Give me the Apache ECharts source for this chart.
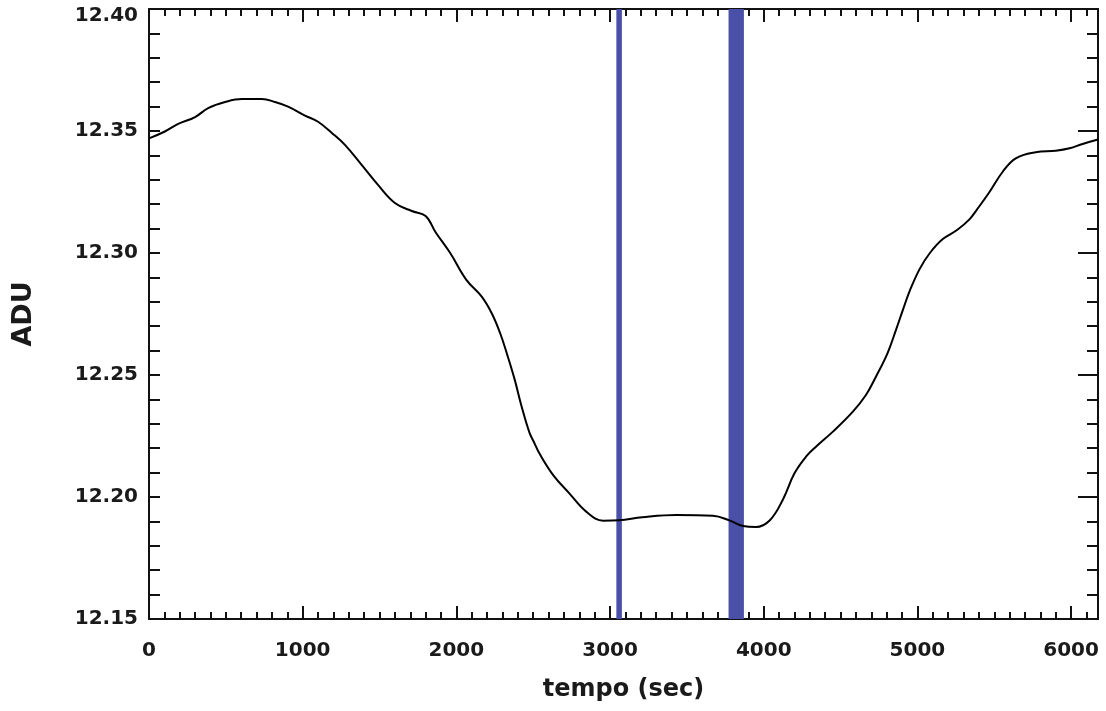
<!DOCTYPE html>
<html>
<head>
<meta charset="utf-8">
<title>ADU vs tempo</title>
<script src="https://cdn.jsdelivr.net/npm/echarts@6/dist/echarts.min.js"></script>
<style>
  html, body { margin: 0; padding: 0; background: #ffffff; }
  #chart { width: 1106px; height: 711px; }
</style>
</head>
<body>
<div id="chart"></div>
<script>
// Light curve samples: time in seconds, signal in ADU
const tempo = [
  0, 100, 190, 300, 385, 495, 605, 735, 820, 905, 1015, 1100, 1190, 1275,
  1385, 1490, 1600, 1710, 1800, 1865, 1960, 2065, 2165, 2230, 2285, 2335,
  2380, 2425, 2475, 2510, 2540, 2630, 2735, 2845, 2955, 3060, 3210, 3430,
  3670, 3780, 3865, 3950, 4040, 4125, 4200, 4275, 4340, 4450, 4580, 4665,
  4730, 4805, 4860, 4905, 4950, 5015, 5080, 5165, 5260, 5340, 5385, 5470,
  5555, 5640, 5770, 5900, 5990, 6075, 6175
];
const adu = [
  12.3470, 12.3497, 12.3529, 12.3557, 12.3594, 12.3619, 12.3631, 12.3631,
  12.3619, 12.3600, 12.3563, 12.3538, 12.3492, 12.3443, 12.3360, 12.3279,
  12.3205, 12.3172, 12.3152, 12.3085, 12.3000, 12.2890, 12.2821, 12.2753,
  12.2671, 12.2575, 12.2480, 12.2370, 12.2265, 12.2218, 12.2179, 12.2090,
  12.2015, 12.1940, 12.1903, 12.1905, 12.1917, 12.1926, 12.1923, 12.1903,
  12.1881, 12.1877, 12.1905, 12.1990, 12.2097, 12.2165, 12.2206, 12.2268,
  12.2350, 12.2418, 12.2493, 12.2589, 12.2684, 12.2766, 12.2845, 12.2935,
  12.2999, 12.3057, 12.3095, 12.3139, 12.3176, 12.3251, 12.3333, 12.3388,
  12.3413, 12.3419, 12.3429, 12.3447, 12.3465
];

// Shaded time windows [start, end] in seconds
const bands = [
  [3041, 3077],
  [3771, 3871]
];

// Axis ranges and tick steps
const xRange = [0, 6175];
const xMajor = 1000;
const xMinor = 100;
const yRange = [12.15, 12.40];
const yMajor = 0.05;

const FONT = 'DejaVu Sans';
const INK = '#1a1a1a';

const points = tempo.map((t, i) => [t, adu[i]]);

const lineStyle = { color: '#111', width: 2 };
const tickLine = { color: '#111', width: 2 };

function xAxisDef(pos, step, tickLen, withLabels, withLine) {
  return {
    type: 'value',
    position: pos,
    min: xRange[0],
    max: xRange[1],
    interval: step,
    splitLine: { show: false },
    axisLine: { show: withLine, onZero: false, lineStyle: lineStyle },
    axisTick: { show: true, inside: true, length: tickLen, lineStyle: tickLine },
    axisLabel: withLabels ? {
      show: true,
      margin: 22,
      showMaxLabel: false,
      fontFamily: FONT,
      fontWeight: 'bold',
      fontSize: 20,
      color: INK,
      formatter: function (v) { return String(Math.round(v)); }
    } : { show: false }
  };
}

function yAxisDef(pos, majorLen, withLabels) {
  return {
    type: 'value',
    position: pos,
    min: yRange[0],
    max: yRange[1],
    interval: yMajor,
    splitLine: { show: false },
    axisLine: { show: true, onZero: false, lineStyle: lineStyle },
    axisTick: { show: true, inside: true, length: majorLen, lineStyle: tickLine },
    minorTick: { show: true, splitNumber: 5, length: 11, lineStyle: tickLine },
    minorSplitLine: { show: false },
    axisLabel: withLabels ? {
      show: true,
      margin: 11,
      fontFamily: FONT,
      fontWeight: 'bold',
      fontSize: 20,
      color: INK,
      formatter: function (v) {
        const s = v.toFixed(2);
        return v >= yRange[1] - 1e-6 ? '{top|' + s + '}' : s;
      },
      rich: {
        top: {
          fontFamily: FONT,
          fontWeight: 'bold',
          fontSize: 20,
          color: INK,
          padding: [14, 0, 0, 0]
        }
      }
    } : { show: false }
  };
}

const xMain = xAxisDef('bottom', xMajor, 13, true, true);
xMain.name = 'tempo (sec)';
xMain.nameLocation = 'middle';
xMain.nameGap = 59;
xMain.nameTextStyle = { fontFamily: FONT, fontWeight: 'bold', fontSize: 24, color: INK };

const yMain = yAxisDef('left', 11, true);
yMain.name = 'ADU';
yMain.nameLocation = 'middle';
yMain.nameGap = 112;
yMain.nameTextStyle = { fontFamily: FONT, fontWeight: 'bold', fontSize: 27, color: INK };

const option = {
  backgroundColor: '#ffffff',
  animation: false,
  grid: { left: 149, right: 8, top: 9, bottom: 92, containLabel: false },
  xAxis: [
    xMain,
    xAxisDef('bottom', xMinor, 7, false, false),
    xAxisDef('top', xMajor, 13, false, true),
    xAxisDef('top', xMinor, 7, false, false)
  ],
  yAxis: [
    yMain,
    yAxisDef('right', 20, false)
  ],
  series: [
    {
      type: 'line',
      xAxisIndex: 0,
      yAxisIndex: 0,
      data: points,
      smooth: 0.4,
      showSymbol: false,
      symbol: 'none',
      lineStyle: { color: '#000000', width: 2 },
      z: 5,
      markArea: {
        silent: true,
        itemStyle: { color: '#4a4fa8', opacity: 1 },
        data: bands.map(b => [{ xAxis: b[0] }, { xAxis: b[1] }])
      }
    }
  ]
};

const chart = echarts.init(document.getElementById('chart'), null, { renderer: 'canvas' });
chart.setOption(option);
</script>
</body>
</html>
